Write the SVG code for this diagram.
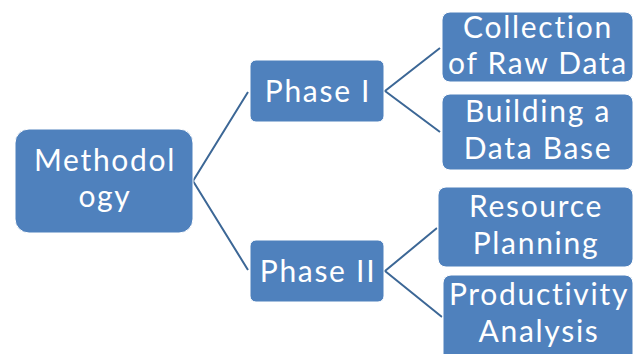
<svg xmlns="http://www.w3.org/2000/svg" width="638" height="354" viewBox="0 0 638 354">
<style>
.box{fill:#4F81BD;stroke:#FFFFFF;stroke-width:1}
.t{fill:#FFFFFF;font-family:Lato,"Open Sans","DejaVu Sans",sans-serif;font-size:30px;letter-spacing:1.7px;text-anchor:middle}
.c{stroke:#3C6796;stroke-width:2;fill:none}
</style>
<rect width="638" height="354" fill="#FFFFFF"/>
<g id="connectors">
<polyline class="c" points="248,92 193,181 248,270"/>
<polyline class="c" points="440,48 385,91 440,132"/>
<polyline class="c" points="437,228 385,271 442,317"/>
</g>
<g id="methodology">
<rect class="box" x="15" y="129" width="178" height="104" rx="14"/>
<text class="t" x="105" y="171">Methodol</text>
<text class="t" x="105" y="207">ogy</text>
</g>
<g id="phase1">
<rect class="box" x="250" y="60" width="134" height="62" rx="6"/>
<text class="t" x="318" y="102">Phase I</text>
</g>
<g id="phase2">
<rect class="box" x="250" y="240" width="134" height="62" rx="6"/>
<text class="t" x="318" y="282">Phase II</text>
</g>
<g id="collection">
<rect class="box" x="442" y="12" width="191" height="70" rx="8"/>
<text class="t" x="538" y="38">Collection</text>
<text class="t" x="538" y="74">of Raw Data</text>
</g>
<g id="building">
<rect class="box" x="442" y="94" width="191" height="76" rx="8"/>
<text class="t" x="538" y="122">Building a</text>
<text class="t" x="538" y="159">Data Base</text>
</g>
<g id="resource">
<rect class="box" x="438" y="187" width="195" height="80" rx="8"/>
<text class="t" x="536" y="217">Resource</text>
<text class="t" x="536" y="254">Planning</text>
</g>
<g id="productivity">
<rect class="box" x="443" y="275" width="190" height="90" rx="8"/>
<text class="t" x="539" y="305">Productivity</text>
<text class="t" x="539" y="342">Analysis</text>
</g>
</svg>
